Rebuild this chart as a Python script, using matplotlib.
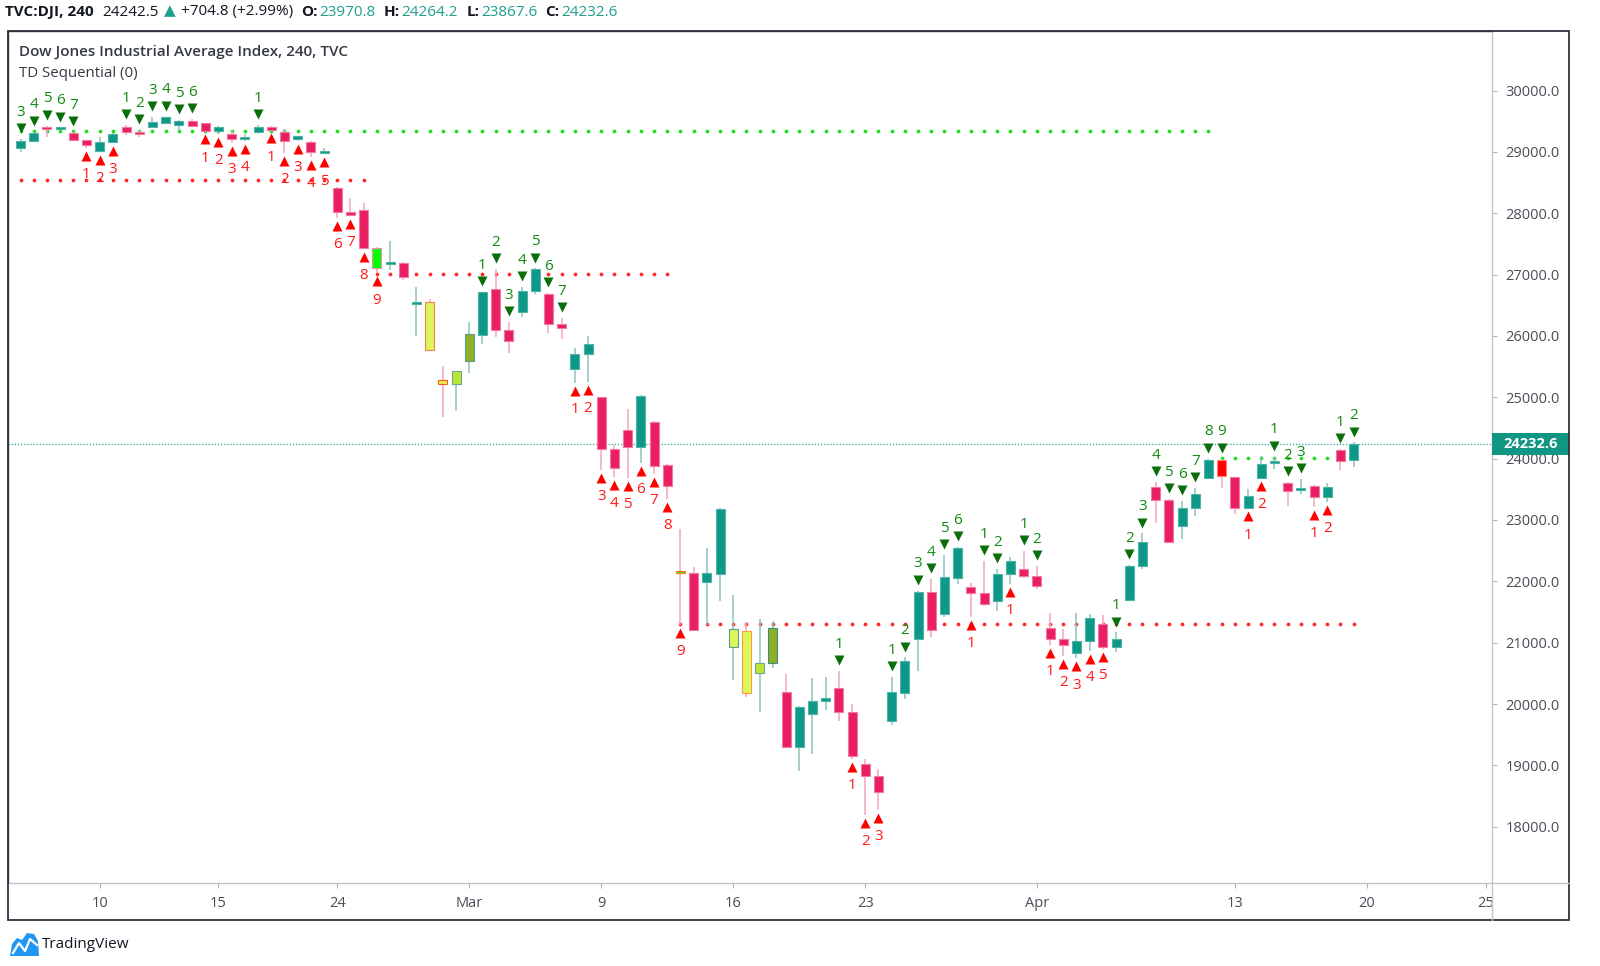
import matplotlib
matplotlib.use("Agg")
import matplotlib.pyplot as plt
from matplotlib.patches import Rectangle, Polygon
from matplotlib.lines import Line2D
from matplotlib.transforms import offset_copy, blended_transform_factory

FONT = ["Open Sans", "DejaVu Sans"]
plt.rcParams["font.family"] = FONT

# --- Data: TVC:DJI 4h bars ---
opens = [29059, 29178, 29400, 29380, 29310, 29194, 29015, 29161, 29401, 29329,
         29411, 29476, 29438, 29504, 29466, 29336, 29292, 29225, 29325, 29401,
         29320, 29230, 29161, 29000, 28407, 28025, 28053, 27439, 27175, 27194,
         26535, 26548, 25282, 25212, 25597, 26016, 26765, 26097, 26395, 26733,
         26684, 26195, 25456, 25701, 25000, 24152, 24467, 24195, 24603, 23897,
         22174, 22131, 21985, 22115, 20925, 21197, 20501, 20665, 20193, 19305,
         19833, 20055, 20258, 19876, 19022, 18832, 19724, 20185, 21055, 21832,
         21468, 22060, 21903, 21806, 21686, 22115, 22202, 22079, 21235, 21061,
         20827, 21033, 21300, 20935, 21696, 22256, 23544, 23326, 22902, 23190,
         23690, 23978, 23696, 23200, 23690, 23930, 23608, 23495, 23554, 23380,
         24141, 23970.8]
highs = [29210, 29330, 29430, 29400, 29320, 29200, 29238, 29300, 29440, 29360,
         29565, 29575, 29520, 29536, 29470, 29415, 29346, 29290, 29440, 29420,
         29368, 29265, 29170, 29060, 28420, 28244, 28162, 27450, 27548, 27200,
         26793, 26597, 25510, 25430, 26227, 26720, 27091, 26227, 26793, 27100,
         26700, 26288, 25799, 26000, 25010, 24220, 24804, 25040, 24610, 23913,
         22848, 22240, 22539, 23190, 21777, 21344, 21388, 21355, 20490, 19960,
         20420, 20446, 20543, 20003, 19109, 18935, 20446, 20760, 21850, 22034,
         22430, 22560, 21968, 22333, 22196, 22402, 22495, 22250, 21490, 21219,
         21490, 21460, 21451, 21168, 22270, 22780, 23624, 23340, 23310, 23517,
         24000, 24000, 23700, 23500, 24044, 24034, 23620, 23663, 23570, 23598,
         24160, 24264.2]
lows = [29005, 29170, 29250, 29370, 29170, 29068, 29000, 29150, 29275, 29250,
        29400, 29470, 29346, 29420, 29335, 29292, 29140, 29183, 29320, 29350,
        28977, 29183, 28912, 28960, 27918, 27960, 27420, 27020, 27075, 26912,
        26000, 25760, 24684, 24777, 25401, 25864, 25988, 25717, 26304, 26684,
        26053, 25950, 25228, 25255, 23815, 23706, 23690, 23934, 23745, 23337,
        21288, 21190, 21288, 21680, 20392, 20120, 19876, 20595, 19280, 18914,
        19181, 19903, 19730, 19100, 18191, 18273, 19660, 20080, 20538, 21100,
        21420, 21950, 21424, 21600, 21522, 21952, 22050, 21870, 20963, 20789,
        20745, 20865, 20900, 20853, 21690, 22200, 22946, 22630, 22685, 23065,
        23680, 23517, 23093, 23190, 23680, 23832, 23228, 23419, 23207, 23298,
        23816, 23867.6]
closes = [29178, 29303, 29390, 29390, 29195, 29112, 29166, 29292, 29320, 29287,
          29487, 29569, 29510, 29427, 29341, 29411, 29215, 29235, 29401, 29357,
          29178, 29240, 28993, 29010, 28025, 27971, 27429, 27103, 27190, 26966,
          26548, 25771, 25217, 25429, 26032, 26711, 26097, 25918, 26733, 27091,
          26195, 26134, 25706, 25869, 24152, 23853, 24195, 25026, 23880, 23559,
          22131, 21206, 22131, 23179, 21219, 20177, 20665, 21235, 19305, 19945,
          20050, 20104, 19876, 19158, 18832, 18571, 20193, 20701, 21832, 21207,
          22067, 22539, 21815, 21626, 22121, 22333, 22092, 21923, 21061, 20963,
          21033, 21410, 20935, 21061, 22256, 22647, 23326, 22636, 23190, 23423,
          23978, 23717, 23200, 23391, 23913, 23960, 23478, 23510, 23380, 23544,
          23967, 24232.6]

# TD Sequential setup counts (bar index -> count)
sell_counts = {0: 3, 1: 4, 2: 5, 3: 6, 4: 7, 8: 1, 9: 2, 10: 3, 11: 4, 12: 5, 13: 6, 18: 1,
               35: 1, 36: 2, 37: 3, 38: 4, 39: 5, 40: 6, 41: 7, 62: 1, 66: 1, 67: 2,
               68: 3, 69: 4, 70: 5, 71: 6, 73: 1, 74: 2, 76: 1, 77: 2, 83: 1, 84: 2,
               85: 3, 86: 4, 87: 5, 88: 6, 89: 7, 90: 8, 91: 9, 95: 1, 96: 2, 97: 3,
               100: 1, 101: 2}
buy_counts = {5: 1, 6: 2, 7: 3, 14: 1, 15: 2, 16: 3, 17: 4, 19: 1, 20: 2, 21: 3, 22: 4,
              23: 5, 24: 6, 25: 7, 26: 8, 27: 9, 42: 1, 43: 2, 44: 3, 45: 4, 46: 5,
              47: 6, 48: 7, 49: 8, 50: 9, 63: 1, 64: 2, 65: 3, 72: 1, 75: 1, 78: 1,
              79: 2, 80: 3, 81: 4, 82: 5, 93: 1, 94: 2, 98: 1, 99: 2}

# TDST levels: (first bar, last bar, price)
resistance_levels = [(0, 90, 29346), (91, 101, 24010)]
support_levels = [(0, 26, 28545), (27, 49, 27015), (50, 101, 21310)]

tick_pos = [6, 15, 24, 34, 44, 54, 64, 77, 92, 102, 111]
tick_labels = ["10", "15", "24", "Mar", "9", "16", "23", "Apr", "13", "20", "25"]
price_ticks = list(range(18000, 30001, 1000))
last_price = 24232.6

# --- Styles ---
UP, UP_EDGE, UP_WICK = "#0d9887", "#4fb3a6", "#8cc5bc"
DOWN, DOWN_EDGE, DOWN_WICK = "#e91e63", "#f27aa0", "#f5a6bf"
special_bars = {
    27: ("#00ff00", "#f48fb1"),
    31: ("#dcf75a", "#f08060"),
    32: ("#e6f04a", "#ff5a1f"),
    33: ("#bde632", "#6aa89c"),
    34: ("#8db024", "#5f9c90"),
    50: ("#33ee33", "#ff7a1a"),
    54: ("#dcf75a", "#5f9c90"),
    55: ("#dcf75a", "#ff9a3c"),
    56: ("#bde632", "#6aa89c"),
    57: ("#8db024", "#3f8a80"),
    91: ("#ff0000", "#ff8080"),
}

W, H = 1600, 966
fig = plt.figure(figsize=(W / 100, H / 100), dpi=100)


def fx(x):
    return x / W


def fy(y):
    return 1 - y / H


LEFT, RIGHT, TOP, BOTTOM = 8, 1492, 31, 883
ax = fig.add_axes([fx(LEFT), fy(BOTTOM), fx(RIGHT) - fx(LEFT), fy(TOP) - fy(BOTTOM)])
ax.set_xlim(-0.947, 111.48)
ax.set_ylim(17083, 30970.6)

# --- TDST dotted levels ---
for a, b, lvl in resistance_levels:
    xs = list(range(a, b + 1))
    ax.plot(xs, [lvl] * len(xs), ls="none", marker="o", ms=1.7, color="#22dd22", zorder=1)
for a, b, lvl in support_levels:
    xs = list(range(a, b + 1))
    ax.plot(xs, [lvl] * len(xs), ls="none", marker="o", ms=1.7, color="#ff2a2a", zorder=1)

# current price line
ax.axhline(last_price, color="#26a69a", lw=0.9, ls=(0, (1, 1.5)), zorder=1)

# --- Candles ---
min_h = 35
for i in range(len(opens)):
    o, h, l, c = opens[i], highs[i], lows[i], closes[i]
    up = c >= o
    fill, edge = special_bars.get(i, (UP, UP_EDGE) if up else (DOWN, DOWN_EDGE))
    ax.vlines(i, l, h, color=UP_WICK if up else DOWN_WICK, lw=1.1, zorder=2)
    body = abs(c - o)
    bottom = min(o, c)
    if body < min_h:
        bottom = (o + c) / 2 - min_h / 2
        body = min_h
    ax.add_patch(Rectangle((i - 0.34, bottom), 0.68, body, fc=fill, ec=edge, lw=0.8, zorder=3))

# --- TD counts ---
tri_up = offset_copy(ax.transData, fig=fig, x=0, y=7.8, units="points")
tri_dn = offset_copy(ax.transData, fig=fig, x=0, y=-5.8, units="points")
for i, n in sell_counts.items():
    ax.plot(i, highs[i], marker="v", ms=6.5, color="#0a6e0a", mec="none", transform=tri_up, zorder=4)
    ax.annotate(str(n), xy=(i, highs[i]), xytext=(0, 19.2), textcoords="offset points",
                ha="center", va="center", fontsize=11, color="#128a12", zorder=4)
for i, n in buy_counts.items():
    ax.plot(i, lows[i], marker="^", ms=6.5, color="#ff0000", mec="none", transform=tri_dn, zorder=4)
    ax.annotate(str(n), xy=(i, lows[i]), xytext=(0, -19.2), textcoords="offset points",
                ha="center", va="center", fontsize=11, color="#ff1a1a", zorder=4)

# --- Axes styling ---
ax.yaxis.tick_right()
ax.set_yticks(price_ticks)
ax.set_yticklabels([f"{v:.1f}" for v in price_ticks])
ax.set_xticks(tick_pos)
ax.set_xticklabels(tick_labels)
ax.tick_params(axis="y", direction="out", length=3.6, pad=6, color="#b2b5be",
               labelcolor="#4a4d57", labelsize=10.5)
ax.tick_params(axis="x", direction="out", length=3.6, pad=6, color="#b2b5be",
               labelcolor="#4a4d57", labelsize=10.5)
for side in ["right", "bottom"]:
    ax.spines[side].set_color("#c3c6cc")
    ax.spines[side].set_linewidth(1.0)
for side in ["left", "top"]:
    ax.spines[side].set_color("#3c3f47")
    ax.spines[side].set_linewidth(1.0)

# last price label on the scale
bt = blended_transform_factory(ax.transAxes, ax.transData)
box_w = (1569 - LEFT) / (RIGHT - LEFT) - 1.0
ax.add_patch(Rectangle((1.0, last_price - 178), box_w, 356, transform=bt, clip_on=False,
                       fc="#129684", ec="none", zorder=10))
ax.text((1503 - LEFT) / (RIGHT - LEFT), last_price, f"{last_price:.1f}", transform=bt,
        clip_on=False, color="white", fontweight="bold", fontsize=10.5, va="center",
        ha="left", zorder=11)

# outer frame and separators
fig.add_artist(Rectangle((fx(8), fy(920)), fx(1569) - fx(8), fy(31) - fy(920), fill=False,
                         ec="#2f3240", lw=1.3, transform=fig.transFigure))
fig.add_artist(Line2D([fx(RIGHT), fx(1569)], [fy(BOTTOM), fy(BOTTOM)], color="#c3c6cc", lw=1.0))
fig.add_artist(Line2D([fx(RIGHT), fx(RIGHT)], [fy(BOTTOM), fy(920)], color="#c3c6cc", lw=1.0))

# --- Header text ---
renderer = fig.canvas.get_renderer()


def draw_pieces(x, y, pieces, size):
    for s, color, weight, gap in pieces:
        t = fig.text(fx(x), fy(y), s, color=color, fontweight=weight, fontsize=size,
                     va="center", ha="left", family=FONT)
        x += t.get_window_extent(renderer).width + gap


TEAL_TXT = "#1e9e8e"
DARK = "#131722"
draw_pieces(5, 12, [
    ("TVC:DJI, 240", DARK, "bold", 9),
    ("24242.5", DARK, "normal", 5),
    ("\u25b2", TEAL_TXT, "normal", 5),
    ("+704.8 (+2.99%)", DARK, "normal", 8),
    ("O:", DARK, "bold", 2),
    ("23970.8", TEAL_TXT, "normal", 8),
    ("H:", DARK, "bold", 2),
    ("24264.2", TEAL_TXT, "normal", 8),
    ("L:", DARK, "bold", 2),
    ("23867.6", TEAL_TXT, "normal", 8),
    ("C:", DARK, "bold", 2),
    ("24232.6", TEAL_TXT, "normal", 0),
], 11)

fig.text(fx(19), fy(52), "Dow Jones Industrial Average Index, 240, TVC", color="#363a45",
         fontweight="semibold", fontsize=11, va="center", ha="left")
fig.text(fx(19), fy(73.5), "TD Sequential (0)", color="#363a45", fontsize=10.8,
         va="center", ha="left")

# --- TradingView logo ---
logo = [(10, 956), (12, 944), (17, 938), (22, 940), (27, 933), (34, 934), (38, 941),
        (39, 956)]
fig.add_artist(Polygon([(fx(x), fy(y)) for x, y in logo], closed=True, fc="#2196f3",
                       ec="none", transform=fig.transFigure))
fig.add_artist(Line2D([fx(13), fx(19), fx(25), fx(30), fx(37)],
                      [fy(953), fy(943), fy(951), fy(939), fy(945)], color="white", lw=1.6))
fig.text(fx(42), fy(944), "TradingView", color=DARK, fontsize=11, va="center", ha="left")

fig.savefig("out.png", dpi=100)
